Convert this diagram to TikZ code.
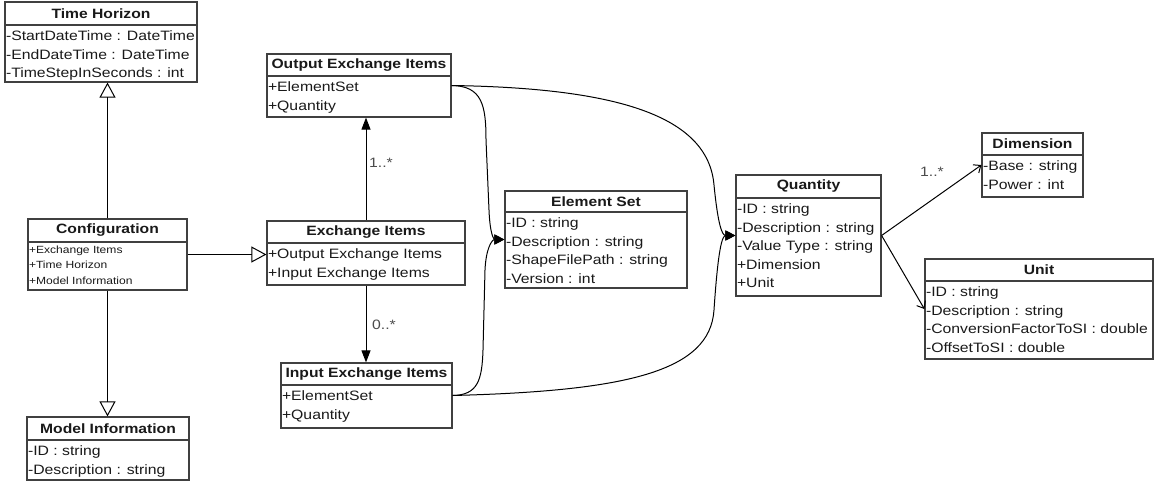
\documentclass[tikz,border=0pt]{standalone}
\usepackage{fontspec}
\setmainfont{Liberation Sans}[FakeStretch=1.16]
\usetikzlibrary{arrows.meta,fit}
\tikzset{
  box/.style={draw=black!75, line width=1.2pt, inner sep=0pt},
  boxline/.style={draw=black!75, line width=1.2pt},
  ttl/.style={font=\bfseries\fontsize{13.5}{16}\selectfont, text=black!90, inner sep=0pt},
  body/.style={anchor=north west, align=left, inner xsep=0.8pt, inner ysep=2.7pt, text=black!90, font=\fontsize{13.6}{18.5}\selectfont},
  smallbody/.style={anchor=north west, align=left, inner xsep=0.8pt, inner ysep=0pt, text=black!90, font=\fontsize{10.4}{15.5}\selectfont},
  conn/.style={draw=black, line width=1pt},
  gen/.style={conn, -{Triangle[open, length=15pt, width=16pt]}},
  nav/.style={conn, -{Triangle[length=12pt, width=9pt]}},
  agg/.style={conn, -{Triangle[length=10pt, width=10pt]}},
  opn/.style={conn, -{Straight Barb[length=6pt, width=10pt]}},
  lbl/.style={font=\fontsize{13.6}{16}\selectfont, text=black!70, inner sep=0pt},
}
\newcommand{\umlcls}[9]{%
  \node[box, fit={(#2,#3) (#4,#6)}] (#1) {};
  \draw[boxline] (#2,#5) -- (#4,#5);
  \node[ttl] (#1-t) at ({(#2+#4)/2},{(#3+#5)/2}) {#7};
  \node[#9] (#1-b) at (#2,#5) {#8};
}
\begin{document}
\begin{tikzpicture}[x=1pt,y=-1pt]
\useasboundingbox (0,0) rectangle (1154,485);

\umlcls{TH}{5}{2}{197}{25}{82}{Time Horizon}{\strut-StartDateTime : DateTime\\\strut-EndDateTime : DateTime\\\strut-TimeStepInSeconds : int}{body}
\umlcls{CF}{28}{219}{187}{242}{290}{Configuration}{\strut+Exchange Items\\\strut+Time Horizon\\\strut+Model Information}{smallbody}
\umlcls{MI}{27}{417}{189}{440}{480}{Model Information}{\strut-ID : string\\\strut-Description : string}{body}
\umlcls{OEI}{267}{54}{451}{76}{117}{Output Exchange Items}{\strut+ElementSet\\\strut+Quantity}{body}
\umlcls{EI}{267}{221}{465}{243}{285}{Exchange Items}{\strut+Output Exchange Items\\\strut+Input Exchange Items}{body}
\umlcls{IEI}{281}{363}{452}{385}{428}{Input Exchange Items}{\strut+ElementSet\\\strut+Quantity}{body}
\umlcls{ES}{505}{191}{687}{212}{288}{Element Set}{\strut-ID : string\\\strut-Description : string\\\strut-ShapeFilePath : string\\\strut-Version : int}{body}
\umlcls{QT}{736}{175}{881}{198}{296}{Quantity}{\strut-ID : string\\\strut-Description : string\\\strut-Value Type : string\\\strut+Dimension\\\strut+Unit}{body}
\umlcls{DM}{982}{133}{1083}{155}{197}{Dimension}{\strut-Base : string\\\strut-Power : int}{body}
\umlcls{UN}{925}{259}{1153}{281}{359}{Unit}{\strut-ID : string\\\strut-Description : string\\\strut-ConversionFactorToSI : double\\\strut-OffsetToSI : double}{body}

% generalizations
\draw[gen] (CF.north) -- (CF.north |- TH.south);
\draw[gen] (CF.south) -- (CF.south |- MI.north);
\draw[gen] (CF.east) -- (EI.west |- CF.east);

% navigations
\draw[nav] (EI.north) -- (EI.north |- OEI.south);
\draw[nav] (EI.south) -- (EI.south |- IEI.north);
\node[lbl, anchor=west] (m1) at (369,163) {1..*};
\node[lbl, anchor=west] (m2) at (372,325) {0..*};

% curves to Element Set
\draw[agg] (OEI.east) .. controls (482,86) and (486,105) .. (486,140) -- (489,210) .. controls (490,235) and (494,239.5) .. (ES.west);
\draw[agg] (IEI.east) .. controls (478,395) and (482,380) .. (483,350) -- (485,270) .. controls (486,248) and (492,239.5) .. (ES.west);

% curves to Quantity
\draw[agg] (OEI.east) .. controls (615,88) and (708,115) .. (714,185) .. controls (718,225) and (722,235.5) .. (QT.west);
\draw[agg] (IEI.east) .. controls (625,391) and (710,372) .. (714,310) .. controls (718,250) and (722,235.5) .. (QT.west);

% quantity to dimension / unit
\draw[opn] (QT.east) -- (DM.west);
\draw[opn] (QT.east) -- (UN.west);
\node[lbl] (m3) at (932,172) {1..*};
\end{tikzpicture}
\end{document}
